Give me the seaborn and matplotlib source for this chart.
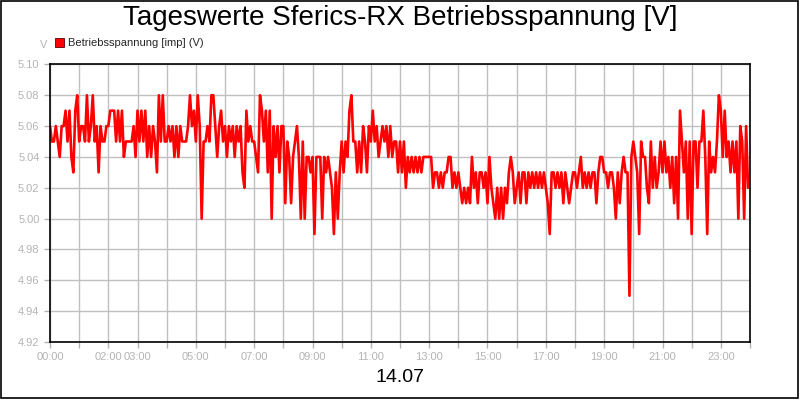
import numpy as np
import pandas as pd
import seaborn as sns
import matplotlib
matplotlib.use("Agg")
import matplotlib.pyplot as plt
from matplotlib.patches import Patch, Rectangle

# readings every 4 minutes, 15 per hour (V)
h00 = [5.06, 5.05, 5.05, 5.06, 5.05, 5.04, 5.06, 5.06, 5.07, 5.05, 5.07, 5.04, 5.03, 5.07, 5.08]
h01 = [5.05, 5.06, 5.06, 5.05, 5.08, 5.05, 5.06, 5.08, 5.05, 5.06, 5.03, 5.06, 5.05, 5.05, 5.06]
h02 = [5.06, 5.07, 5.07, 5.07, 5.05, 5.07, 5.05, 5.07, 5.04, 5.05, 5.05, 5.05, 5.05, 5.06, 5.04]
h03 = [5.07, 5.05, 5.07, 5.05, 5.07, 5.04, 5.06, 5.04, 5.06, 5.05, 5.03, 5.08, 5.05, 5.08, 5.05]
h04 = [5.05, 5.06, 5.05, 5.06, 5.04, 5.06, 5.04, 5.06, 5.05, 5.05, 5.05, 5.06, 5.08, 5.06, 5.07]
h05 = [5.05, 5.08, 5.06, 5.00, 5.05, 5.05, 5.06, 5.05, 5.08, 5.08, 5.06, 5.04, 5.06, 5.07, 5.05]
h06 = [5.06, 5.04, 5.06, 5.05, 5.06, 5.04, 5.06, 5.05, 5.06, 5.03, 5.02, 5.07, 5.05, 5.06, 5.05]
h07 = [5.05, 5.04, 5.03, 5.08, 5.07, 5.05, 5.07, 5.03, 5.07, 5.00, 5.06, 5.04, 5.06, 5.03, 5.06]
h08 = [5.06, 5.01, 5.05, 5.04, 5.01, 5.04, 5.05, 5.06, 5.04, 5.00, 5.05, 5.00, 5.04, 5.04, 5.03]
h09 = [5.04, 4.99, 5.04, 5.04, 5.04, 5.00, 5.04, 5.03, 5.04, 5.03, 5.02, 4.99, 5.03, 5.00, 5.03]
h10 = [5.05, 5.03, 5.05, 5.04, 5.07, 5.08, 5.05, 5.05, 5.03, 5.05, 5.03, 5.06, 5.05, 5.03, 5.06]
h11 = [5.05, 5.07, 5.05, 5.06, 5.04, 5.05, 5.06, 5.05, 5.06, 5.04, 5.06, 5.04, 5.05, 5.05, 5.03]
h12 = [5.05, 5.03, 5.05, 5.02, 5.04, 5.03, 5.04, 5.03, 5.04, 5.03, 5.04, 5.03, 5.04, 5.04, 5.04]
h13 = [5.04, 5.04, 5.02, 5.03, 5.03, 5.02, 5.03, 5.02, 5.03, 5.03, 5.04, 5.04, 5.02, 5.03, 5.02]
h14 = [5.03, 5.02, 5.01, 5.02, 5.01, 5.02, 5.01, 5.04, 5.02, 5.03, 5.01, 5.03, 5.03, 5.02, 5.03]
h15 = [5.01, 5.04, 5.02, 5.01, 5.00, 5.02, 5.00, 5.02, 5.00, 5.02, 5.01, 5.03, 5.04, 5.03, 5.01]
h16 = [5.02, 5.03, 5.01, 5.03, 5.03, 5.01, 5.03, 5.02, 5.03, 5.02, 5.03, 5.02, 5.03, 5.02, 5.03]
h17 = [5.02, 5.01, 4.99, 5.03, 5.03, 5.02, 5.03, 5.02, 5.03, 5.01, 5.03, 5.02, 5.01, 5.02, 5.03]
h18 = [5.03, 5.02, 5.03, 5.04, 5.02, 5.03, 5.02, 5.03, 5.02, 5.03, 5.03, 5.01, 5.03, 5.04, 5.04]
h19 = [5.03, 5.03, 5.02, 5.03, 5.03, 5.02, 5.00, 5.03, 5.01, 5.03, 5.04, 5.03, 5.03, 4.95, 5.04]
h20 = [5.05, 5.04, 5.03, 4.99, 5.05, 5.04, 5.04, 5.02, 5.01, 5.05, 5.02, 5.04, 5.02, 5.03, 5.05]
h21 = [5.03, 5.05, 5.03, 5.04, 5.02, 5.04, 5.01, 5.04, 5.00, 5.07, 5.05, 5.03, 5.05, 5.00, 5.05]
h22 = [4.99, 5.05, 5.05, 5.02, 5.05, 5.05, 5.07, 5.04, 4.99, 5.05, 5.03, 5.04, 5.03, 5.05, 5.08]
h23 = [5.07, 5.04, 5.07, 5.04, 5.05, 5.03, 5.05, 5.03, 5.05, 5.00, 5.06, 5.05, 5.00, 5.06, 5.02]

hour_labels = ["00:00", "", "02:00", "03:00", "", "05:00", "", "07:00", "", "09:00", "",
               "11:00", "", "13:00", "", "15:00", "", "17:00", "", "19:00", "", "21:00",
               "", "23:00", ""]
y_ticks = [4.92, 4.94, 4.96, 4.98, 5.00, 5.02, 5.04, 5.06, 5.08, 5.10]

volts = (h00 + h01 + h02 + h03 + h04 + h05 + h06 + h07 + h08 + h09 + h10 + h11
         + h12 + h13 + h14 + h15 + h16 + h17 + h18 + h19 + h20 + h21 + h22 + h23)
df = pd.DataFrame({"hour": np.arange(len(volts)) * 4 / 60, "volt": volts})

sns.set_style("white")
plt.rcParams["font.family"] = ["Liberation Sans", "DejaVu Sans"]
gray = "#b4b4b4"

fig = plt.figure(figsize=(8, 4), dpi=100)
ax = fig.add_axes([0.0625, 0.145, 0.875, 0.694])
sns.lineplot(data=df, x="hour", y="volt", color="#ff0000", linewidth=1.9, ax=ax)

ax.set_xlim(0, 24)
ax.set_ylim(4.92, 5.10)
ax.set_xticks(range(25))
ax.set_xticklabels(hour_labels)
ax.set_yticks(y_ticks)
ax.set_yticklabels([f"{t:.2f}" for t in y_ticks])
ax.grid(True, color="#c0c0c0", linewidth=1)
ax.set_axisbelow(True)
ax.tick_params(axis="both", colors=gray, labelsize=8, length=4, width=1, direction="out",
               bottom=True, left=True)
for s in ax.spines.values():
    s.set_color("black")
    s.set_linewidth(1.2)
ax.set_xlabel("")
ax.set_ylabel("")

fig.text(0.5, 0.955, "Tageswerte Sferics-RX Betriebsspannung [V]", ha="center", va="center",
         fontsize=20, color="black")
fig.text(0.5, 0.055, "14.07", ha="center", va="center", fontsize=14, color="black")
fig.text(0.054, 0.887, "V", ha="center", va="center", fontsize=8, color=gray)

handle = Patch(facecolor="#ff0000", edgecolor="#600000", linewidth=0.6)
fig.legend([handle], ["Betriebsspannung [imp] (V)"], loc="center left",
           bbox_to_anchor=(0.062, 0.892), frameon=False, fontsize=8,
           handlelength=0.8, handleheight=0.8, handletextpad=0.4, borderpad=0)

fig.patches.append(Rectangle((0.001, 0.004), 0.996, 0.994, transform=fig.transFigure,
                             fill=False, edgecolor="black", linewidth=1.2))

fig.savefig("out.png", dpi=100)
